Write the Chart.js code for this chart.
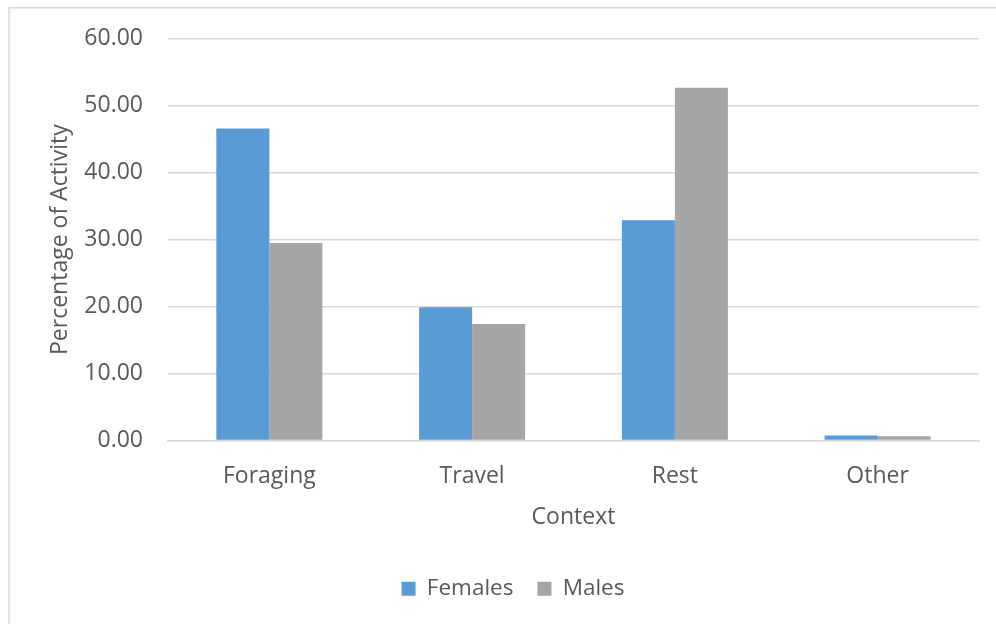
<!DOCTYPE html>
<html>
<head>
<meta charset="utf-8">
<script src="https://cdn.jsdelivr.net/npm/chart.js@4/dist/chart.umd.min.js"></script>
<style>
  html, body { margin: 0; padding: 0; background: #ffffff; }
  #wrap { position: relative; width: 996px; height: 624px; }
</style>
</head>
<body>
<div id="wrap"><canvas id="c" width="996" height="624"></canvas></div>
<script>
const categories = ["Foraging", "Travel", "Rest", "Other"];
const females = [46.6, 19.9, 32.9, 0.75];
const males = [29.5, 17.4, 52.7, 0.65];
const yTicks = [0, 10, 20, 30, 40, 50, 60];

const FONT = "'Open Sans', 'DejaVu Sans', sans-serif";
const TXT = "#595959";

const borderPlugin = {
  id: 'outerBorder',
  beforeDraw(chart) {
    const ctx = chart.ctx;
    ctx.save();
    ctx.fillStyle = '#ffffff';
    ctx.fillRect(0, 0, chart.width, chart.height);
    ctx.strokeStyle = '#d9d9d9';
    ctx.lineWidth = 1.5;
    ctx.strokeRect(9, 7.8, 1200, 1200);
    ctx.restore();
  }
};

new Chart(document.getElementById('c'), {
  type: 'bar',
  data: {
    labels: categories,
    datasets: [
      { label: 'Females', data: females, backgroundColor: '#5B9BD5', borderWidth: 0 },
      { label: 'Males', data: males, backgroundColor: '#A5A5A5', borderWidth: 0 }
    ]
  },
  plugins: [borderPlugin],
  options: {
    responsive: false,
    animation: false,
    devicePixelRatio: 1,
    layout: { padding: { left: 47, right: 17, top: 38, bottom: 14 } },
    datasets: { bar: { categoryPercentage: 0.523, barPercentage: 1.0 } },
    plugins: {
      legend: {
        position: 'bottom',
        labels: {
          font: { family: FONT, size: 22.5 },
          color: TXT,
          boxWidth: 14,
          boxHeight: 14,
          padding: 24
        }
      },
      tooltip: { enabled: false }
    },
    scales: {
      x: {
        grid: { display: false, drawTicks: false },
        border: { display: true, color: '#d9d9d9', width: 1.5 },
        ticks: { font: { family: FONT, size: 23 }, color: TXT, padding: 22 },
        title: {
          display: true, text: 'Context',
          font: { family: FONT, size: 23 }, color: TXT,
          padding: { top: 0, bottom: 22 }
        },
        afterFit(scale) { scale.height = 113; }
      },
      y: {
        min: 0, max: 60,
        afterBuildTicks(scale) { scale.ticks = yTicks.map(v => ({ value: v })); },
        grid: { color: '#d9d9d9', lineWidth: 1.5, drawTicks: false },
        border: { display: false },
        ticks: {
          font: { family: FONT, size: 23 }, color: TXT, padding: 25,
          callback: (v) => Number(v).toFixed(2)
        },
        title: {
          display: true, text: 'Percentage of Activity',
          font: { family: FONT, size: 23 }, color: TXT,
          padding: { top: 0, bottom: 0 }
        },
        afterFit(scale) { scale.width = 121; }
      }
    }
  }
});
</script>
</body>
</html>
